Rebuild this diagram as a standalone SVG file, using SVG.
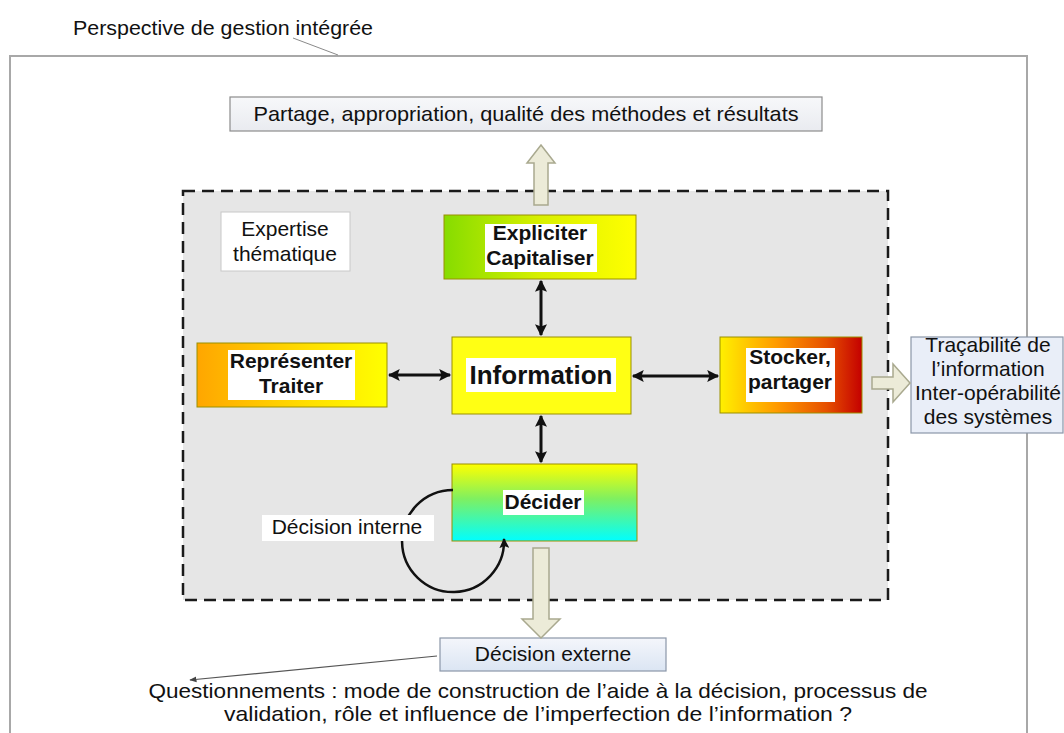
<svg xmlns="http://www.w3.org/2000/svg" width="1064" height="733" viewBox="0 0 1064 733">
<style>
text{font-family:"Liberation Sans",Arial,sans-serif;fill:#111;}
.t{font-size:21px;text-anchor:middle;}
.b{font-size:21px;font-weight:bold;text-anchor:middle;}
.hl{fill:#fff;stroke:none;}
.node{stroke:#9a9000;stroke-width:1;}
.blk{fill:#ecebd8;stroke:#a9a98f;stroke-width:1.5;}
.con{stroke:#111;stroke-width:3;fill:none;}
</style>
<defs>
<marker id="ah" viewBox="0 0 10 10" refX="9" refY="5" markerWidth="4.2" markerHeight="4" orient="auto-start-reverse" markerUnits="strokeWidth"><path d="M0,0 L10,5 L0,10 L2,5 z" fill="#111"/></marker>
<marker id="ahs" viewBox="0 0 10 10" refX="9" refY="5" markerWidth="6" markerHeight="6" orient="auto" markerUnits="strokeWidth"><path d="M0,1 L10,5 L0,9 z" fill="#444"/></marker>
<linearGradient id="gExpl" x1="0" y1="0" x2="1" y2="0"><stop offset="0" stop-color="#86dc00"/><stop offset="0.5" stop-color="#d8f000"/><stop offset="1" stop-color="#ffff00"/></linearGradient>
<linearGradient id="gRep" x1="0" y1="0" x2="1" y2="0"><stop offset="0" stop-color="#ffa600"/><stop offset="0.6" stop-color="#ffe000"/><stop offset="1" stop-color="#ffff00"/></linearGradient>
<linearGradient id="gSto" x1="0" y1="0" x2="1" y2="0"><stop offset="0" stop-color="#fff000"/><stop offset="0.4" stop-color="#ff9a00"/><stop offset="0.75" stop-color="#e65000"/><stop offset="1" stop-color="#c40000"/></linearGradient>
<linearGradient id="gDec" x1="0" y1="0" x2="0" y2="1"><stop offset="0" stop-color="#ffff00"/><stop offset="0.45" stop-color="#7ff060"/><stop offset="1" stop-color="#00ffff"/></linearGradient>
<linearGradient id="gBlue" x1="0" y1="0" x2="0" y2="1"><stop offset="0" stop-color="#f4f6fb"/><stop offset="1" stop-color="#dbe5f3"/></linearGradient>
<linearGradient id="gGrey" x1="0" y1="0" x2="0" y2="1"><stop offset="0" stop-color="#f7f8fa"/><stop offset="1" stop-color="#e9ebf0"/></linearGradient>
</defs>
<rect x="0" y="0" width="1064" height="733" fill="#fff"/>

<g id="frame">
<rect x="10" y="56" width="1017" height="720" fill="#fff" stroke="#a8a8a8" stroke-width="2"/>
<text x="73" y="35" style="font-size:21px" textLength="300" lengthAdjust="spacingAndGlyphs">Perspective de gestion intégrée</text>
<line x1="293" y1="38" x2="338" y2="55" stroke="#8a8a8a" stroke-width="1"/>
</g>

<g id="expertise-zone">
<rect x="183" y="191" width="705" height="409" fill="#e6e6e6" stroke="#1a1a1a" stroke-width="2.5" stroke-dasharray="12 7"/>
</g>

<g id="partage">
<rect x="230" y="97" width="592" height="34" fill="url(#gGrey)" stroke="#8c8c8c" stroke-width="1.2"/>
<text class="t" x="526" y="121" textLength="545" lengthAdjust="spacingAndGlyphs">Partage, appropriation, qualité des méthodes et résultats</text>
</g>

<g id="expertise">
<rect x="221" y="212" width="129" height="59" fill="#fff" stroke="#c8c8c8" stroke-width="1"/>
<text class="t" x="285" y="236">Expertise</text>
<text class="t" x="285" y="261">thématique</text>
</g>

<g id="expliciter">
<rect class="node" x="444" y="215" width="192" height="64" fill="url(#gExpl)"/>
<rect class="hl" x="485" y="224" width="112" height="48"/>
<text class="b" x="540" y="240">Expliciter</text>
<text class="b" x="540" y="265">Capitaliser</text>
</g>

<g id="representer">
<rect class="node" x="197" y="343" width="190" height="64" fill="url(#gRep)"/>
<rect class="hl" x="228" y="350" width="127" height="50"/>
<text class="b" x="291" y="368">Représenter</text>
<text class="b" x="291" y="393">Traiter</text>
</g>

<g id="information">
<rect class="node" x="452" y="337" width="179" height="77" fill="#ffff14"/>
<rect class="hl" x="466" y="358" width="150" height="34"/>
<text class="b" x="541" y="384" style="font-size:26px">Information</text>
</g>

<g id="stocker">
<rect class="node" x="720" y="337" width="142" height="76" fill="url(#gSto)"/>
<rect class="hl" x="746" y="348" width="89" height="54"/>
<text class="b" x="790" y="364">Stocker,</text>
<text class="b" x="790" y="389">partager</text>
</g>

<g id="tracabilite">
<rect x="911" y="337" width="152" height="96" fill="#e9eef8" stroke="#8b97a8" stroke-width="1.2"/>
<text class="t" x="988" y="352">Traçabilité de</text>
<text class="t" x="988" y="376">l’information</text>
<text class="t" x="988" y="400">Inter-opérabilité</text>
<text class="t" x="988" y="424">des systèmes</text>
</g>

<g id="decider">
<rect class="node" x="452" y="464" width="185" height="77" fill="url(#gDec)"/>
<rect class="hl" x="503" y="490" width="81" height="25"/>
<text class="b" x="543" y="509">Décider</text>
</g>

<g id="decision-externe">
<rect x="440" y="638" width="226" height="33" fill="url(#gBlue)" stroke="#8b97a8" stroke-width="1.2"/>
<text class="t" x="553" y="661">Décision externe</text>
</g>

<g id="questionnements">
<text class="t" x="538" y="698" textLength="779" lengthAdjust="spacingAndGlyphs">Questionnements  : mode de construction de l’aide à la décision, processus de</text>
<text class="t" x="538" y="721" textLength="628" lengthAdjust="spacingAndGlyphs">validation, rôle et influence de l’imperfection de l’information ?</text>
</g>

<g id="connectors">
<line class="con" x1="541" y1="281" x2="541" y2="335" marker-start="url(#ah)" marker-end="url(#ah)"/>
<line class="con" x1="541" y1="416" x2="541" y2="462" marker-start="url(#ah)" marker-end="url(#ah)"/>
<line class="con" x1="389" y1="375" x2="450" y2="375" marker-start="url(#ah)" marker-end="url(#ah)"/>
<line class="con" x1="633" y1="376" x2="718" y2="376" marker-start="url(#ah)" marker-end="url(#ah)"/>
<path class="con" style="stroke-width:2.5" d="M453 490 A51 51 0 1 0 504 539" marker-end="url(#ah)"/>
<path class="blk" d="M534 205 L534 163 L527 163 L541 145 L555 163 L548 163 L548 205 Z"/>
<path class="blk" d="M533 548 L549 548 L549 619 L560 619 L541 638 L522 619 L533 619 Z"/>
<path class="blk" d="M872 377 L893 377 L893 364 L910 383 L893 402 L893 389 L872 389 Z"/>
<line x1="437" y1="656" x2="190" y2="680" stroke="#555" stroke-width="1.2" marker-end="url(#ahs)"/>
</g>

<g id="decision-interne">
<rect x="262" y="515" width="172" height="26" fill="#fff"/>
<text class="t" x="347" y="534">Décision interne</text>
</g>
</svg>
